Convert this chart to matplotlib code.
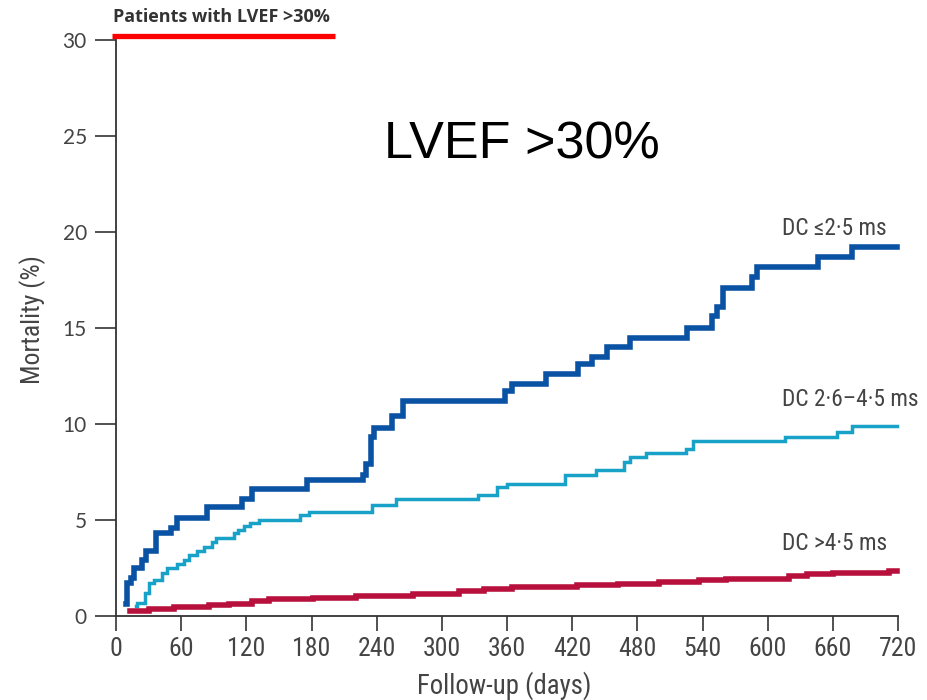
import matplotlib
matplotlib.use("Agg")
import matplotlib.pyplot as plt
from matplotlib.lines import Line2D
from matplotlib import font_manager

# Kaplan-Meier style cumulative mortality (%) by deceleration capacity group
dc_low_days = [9, 10, 14, 17, 24, 28, 37, 51, 56, 84, 116, 125, 176, 227, 230, 235,
               238, 254, 264, 358, 365, 396, 425, 438, 452, 473, 526, 549, 553, 559,
               586, 590, 646, 678, 719]
dc_low_mort = [0.6, 1.7, 2.0, 2.5, 2.9, 3.4, 4.3, 4.6, 5.1, 5.7, 6.1, 6.6, 7.1, 7.35,
               7.9, 9.3, 9.8, 10.4, 11.2, 11.7, 12.1, 12.6, 13.1, 13.5, 14.0, 14.5,
               15.0, 15.6, 16.1, 17.1, 17.65, 18.2, 18.7, 19.2, 19.2]

dc_mid_days = [18, 19, 27, 30, 35, 42, 47, 56, 63, 67, 75, 81, 88, 92, 109, 112, 118,
               123, 132, 169, 178, 236, 258, 333, 351, 360, 413, 442, 468, 473, 488,
               525, 531, 616, 664, 678, 719]
dc_mid_mort = [0.5, 0.7, 1.2, 1.7, 1.9, 2.25, 2.5, 2.7, 2.9, 3.2, 3.4, 3.6, 3.85, 4.05,
               4.3, 4.5, 4.7, 4.85, 5.0, 5.25, 5.4, 5.8, 6.1, 6.3, 6.7, 6.9, 7.35, 7.6,
               8.0, 8.3, 8.5, 8.7, 9.1, 9.3, 9.6, 9.9, 9.9]

dc_high_days = [13, 30, 53, 86, 104, 125, 141, 181, 221, 273, 316, 339, 365, 424, 462,
                500, 537, 562, 620, 636, 660, 712, 719]
dc_high_mort = [0.25, 0.35, 0.45, 0.55, 0.65, 0.8, 0.9, 0.95, 1.03, 1.13, 1.3, 1.4, 1.5,
                1.6, 1.65, 1.75, 1.85, 1.95, 2.1, 2.2, 2.25, 2.35, 2.35]

x_ticks = list(range(0, 721, 60))
y_ticks = [0, 5, 10, 15, 20, 25, 30]

group_labels = ["DC \u22642\u00b75 ms", "DC 2\u00b76\u20134\u00b75 ms", "DC >4\u00b75 ms"]
label_y = [20.2, 11.25, 3.8]


def pick_font(candidates):
    names = {f.name for f in font_manager.fontManager.ttflist}
    for c in candidates:
        if c in names:
            return c
    return "DejaVu Sans"


narrow_name = pick_font(["Liberation Sans Narrow", "DejaVu Sans Condensed",
                         "Roboto Condensed", "Open Sans Condensed", "Roboto"])
NARROW = [narrow_name, "DejaVu Sans"]
is_condensed = narrow_name != "Roboto" and narrow_name != "DejaVu Sans"
scale = 1.0 if is_condensed else 0.9
GREY = "#444444"

fig = plt.figure(figsize=(9.27, 7.0), dpi=100)
ax = fig.add_axes([116 / 927, 84 / 700, 782 / 927, 576 / 700])

ax.step(dc_low_days, dc_low_mort, where="post", color="#0a52a3", lw=4.0,
        solid_joinstyle="miter", clip_on=False, zorder=3)
ax.step(dc_mid_days, dc_mid_mort, where="post", color="#18a2c8", lw=2.5,
        solid_joinstyle="miter", clip_on=False, zorder=3)
ax.step(dc_high_days, dc_high_mort, where="post", color="#b8103c", lw=4.0,
        solid_joinstyle="miter", clip_on=False, zorder=3)

for txt, yv in zip(group_labels, label_y):
    ax.text(613, yv, txt, ha="left", va="center", fontsize=16.8 * scale, color=GREY,
            family=NARROW, clip_on=False)

ax.set_xlim(0, 720)
ax.set_ylim(0, 30)
ax.set_xticks(x_ticks)
ax.set_yticks(y_ticks)
ax.set_xticklabels([str(v) for v in x_ticks], family=NARROW, fontsize=18.5 * scale,
                   color=GREY)
ax.set_yticklabels([str(v) for v in y_ticks], family=["Lato", "DejaVu Sans"],
                   fontsize=15, color=GREY)
ax.tick_params(axis="x", direction="out", length=11, width=1.2, color="#333333", pad=4)
ax.tick_params(axis="y", direction="out", length=15, width=1.2, color="#333333", pad=6)

for side in ("top", "right"):
    ax.spines[side].set_visible(False)
for side in ("left", "bottom"):
    ax.spines[side].set_color("#333333")
    ax.spines[side].set_linewidth(1.3)

ax.set_xlabel("Follow-up (days)", family=NARROW, fontsize=19.3 * scale, color=GREY,
              va="center", ha="center")
ax.set_ylabel("Mortality (%)", family=NARROW, fontsize=18.5 * scale, color=GREY,
              va="center", ha="center")
ax.xaxis.set_label_coords(0.497, -0.1215)
ax.yaxis.set_label_coords(-0.107, 0.515)

# Panel heading with red underline
fig.text(113 / 927, 1 - 17 / 700, "Patients with LVEF >30%", ha="left", va="center",
         fontsize=13, fontweight="bold", color="#333333",
         family=["Open Sans", "DejaVu Sans"])
fig.add_artist(Line2D([112 / 927, 335 / 927], [1 - 36 / 700, 1 - 36 / 700],
                      color="#ff0000", lw=3.8, solid_capstyle="butt"))

fig.text(522 / 927, 1 - 145 / 700, "LVEF >30%", ha="center", va="center",
         fontsize=37.5, color="black", family=["Liberation Sans", "DejaVu Sans"])

fig.savefig("out.png", dpi=100)
